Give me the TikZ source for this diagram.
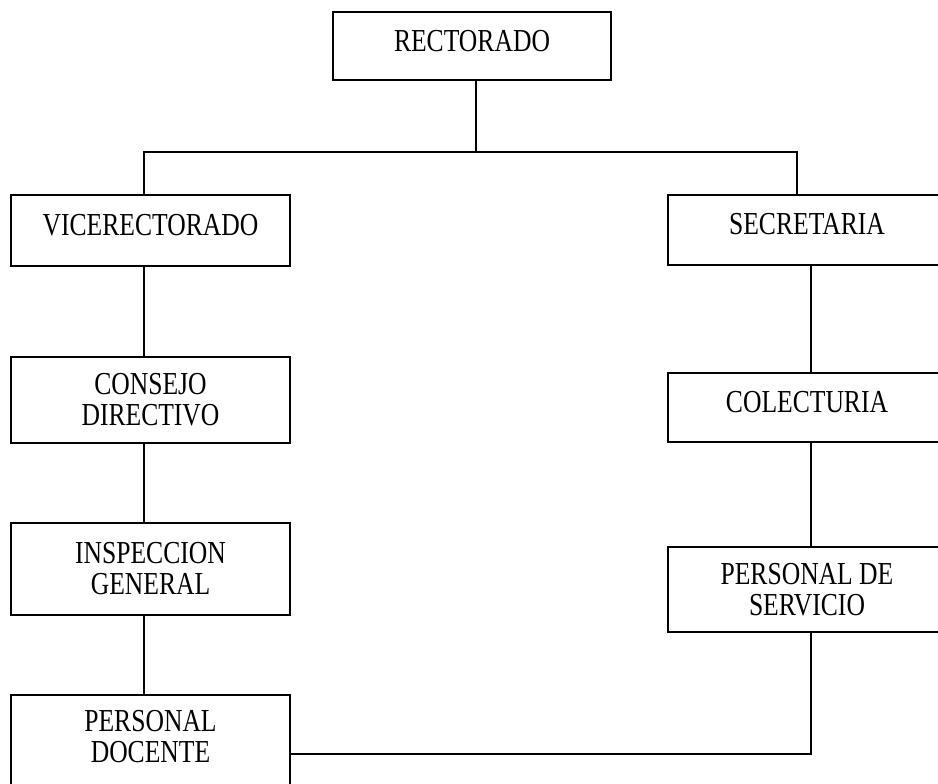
\documentclass[tikz,border=0pt]{standalone}
\usepackage{fontspec}
\setmainfont{Liberation Serif}[FakeStretch=0.80]
\usepackage{tikz}
\usetikzlibrary{positioning,calc}
\tikzset{
  basic/.style  = {draw, rectangle, line width=2pt, inner sep=0pt,
                   align=center, font=\fontsize{32}{31}\selectfont},
  unit/.style   = {basic, minimum width=279pt},
  single/.style = {text depth=12pt},
  link/.style   = {line width=1.8pt}
}

\begin{document}
\begin{tikzpicture}[x=1pt,y=-1pt]
  \useasboundingbox (0,0) rectangle (938,784);
  % top
  \node[basic, single, minimum width=278pt, minimum height=68pt] (rector) at (472,46.5) {RECTORADO};
  % left column
  \node[unit, single, minimum height=71pt] (vice) at (150.5,230.5) {VICERECTORADO};
  \node[unit, minimum height=86pt] (consejo) at (150.5,400)   {CONSEJO\\DIRECTIVO};
  \node[unit, minimum height=92pt] (inspec)  at (150.5,569)   {INSPECCION\\GENERAL};
  \node[unit, minimum height=96pt, text depth=14pt] (docente) at (150.5,743) {PERSONAL\\DOCENTE};
  % right column
  \node[unit, single, minimum height=70pt] (secre)  at (807,230)   {SECRETARIA};
  \node[unit, single, minimum height=69pt] (colect) at (807,407.5) {COLECTURIA};
  \node[unit, minimum height=85pt] (servic)  at (807,589.5) {PERSONAL DE\\SERVICIO};
  % spines
  \coordinate (bus)   at (476,152);
  \coordinate (lspine) at (144,0);
  \coordinate (rtop)  at (797,0);
  \coordinate (rspine) at (811,754);
  \draw[link] (rector.south -| bus) -- (bus);
  \draw[link] (vice.north -| lspine) |- (bus) -| (secre.north -| rtop);
  \draw[link] (vice.south -| lspine) -- (consejo.north -| lspine);
  \draw[link] (consejo.south -| lspine) -- (inspec.north -| lspine);
  \draw[link] (inspec.south -| lspine) -- (docente.north -| lspine);
  \draw[link] (secre.south -| rspine) -- (colect.north -| rspine);
  \draw[link] (colect.south -| rspine) -- (servic.north -| rspine);
  \draw[link] (servic.south -| rspine) -- (rspine) -- (docente.east |- rspine);
\end{tikzpicture}
\end{document}
